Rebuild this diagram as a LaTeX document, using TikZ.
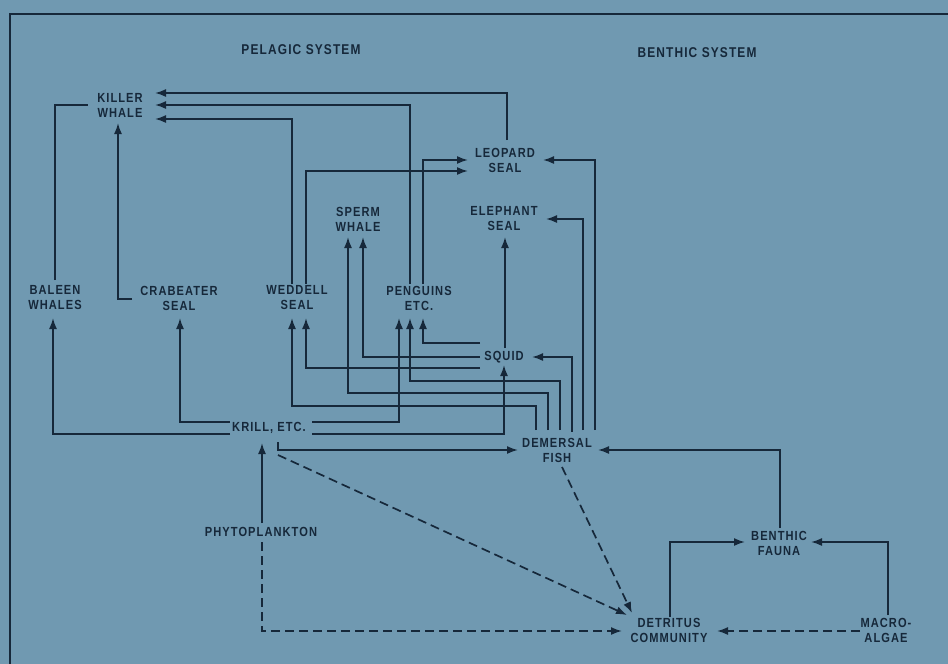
\documentclass[tikz,border=0pt]{standalone}
\usepackage{fontspec}
\setmainfont{Liberation Sans}[LetterSpace=8,FakeStretch=0.84]
\usetikzlibrary{arrows.meta,calc}
\definecolor{webbg}{RGB}{112,153,177}
\definecolor{webink}{RGB}{22,40,58}

\begin{document}
\begin{tikzpicture}[x=1pt,y=-1pt,
    taxon/.style={align=center,inner sep=0pt,text=webink,font=\bfseries\fontsize{13.2}{15}\selectfont},
    head/.style={inner sep=0pt,text=webink,font=\bfseries\fontsize{14.2}{16}\selectfont},
    feed/.style={draw=webink,line width=1.7pt,-{Latex[length=11pt,width=8pt]}},
    link/.style={draw=webink,line width=1.7pt},
    decay/.style={feed,dash pattern=on 9pt off 5pt}]
  \fill[webbg] (0,0) rectangle (948,664);
  \useasboundingbox (0,0) rectangle (948,664);
  % frame
  \draw[link] (10,664) -- (10,14) -- (948,14);

  % headings
  \node[head] (pelagic) at (301,50) {PELAGIC SYSTEM};
  \node[head] (benthic) at (697,53) {BENTHIC SYSTEM};

  % top predators
  \node[taxon] (killer) at (120,105) {KILLER\\WHALE};
  \node[taxon] (leopard) at (505,160) {LEOPARD\\SEAL};
  \node[taxon] (elephant) at (504,219) {ELEPHANT\\SEAL};
  \node[taxon] (sperm) at (358,219) {SPERM\\WHALE};
  % middle row
  \node[taxon] (baleen) at (55,298) {BALEEN\\WHALES};
  \node[taxon] (crab) at (179,298) {CRABEATER\\SEAL};
  \node[taxon] (weddell) at (297,298) {WEDDELL\\SEAL};
  \node[taxon] (penguins) at (419,298) {PENGUINS\\ETC.};
  \node[taxon] (squid) at (504,357) {SQUID};
  % lower part
  \node[taxon] (krill) at (269,428) {KRILL, ETC.};
  \node[taxon] (fish) at (557,450) {DEMERSAL\\FISH};
  \node[taxon] (phyto) at (261,532) {PHYTOPLANKTON};
  \node[taxon] (fauna) at (779,543) {BENTHIC\\FAUNA};
  \node[taxon] (detritus) at (669,630) {DETRITUS\\COMMUNITY};
  \node[taxon] (macro) at (886,630) {MACRO-\\ALGAE};

  % into killer whale
  \draw[feed] ($(leopard)+(2,-20)$) |- ($(killer)+(35,-12)$);
  \draw[feed] ($(penguins)+(-9,-14)$) |- ($(killer)+(35,0)$);
  \draw[feed] ($(weddell)+(-5,-14)$) |- ($(killer)+(35,14)$);
  \draw[link] ($(baleen)+(0,-18)$) |- ($(killer)+(-32,0)$);
  \draw[feed] ($(crab)+(-47,1)$) -| ($(killer)+(-2,18)$);

  % into leopard and elephant seal
  \draw[feed] ($(penguins)+(4,-14)$) |- ($(leopard)+(-37,0)$);
  \draw[feed] ($(weddell)+(9,-14)$) |- ($(leopard)+(-37,11)$);
  \draw[feed] ($(fish)+(38,-20)$) |- ($(leopard)+(38,0)$);
  \draw[feed] ($(fish)+(26,-20)$) |- ($(elephant)+(42,0)$);
  \draw[feed] ($(squid)+(1,-9)$) -- ($(elephant)+(1,18)$);

  % squid
  \draw[feed,{Latex[length=11pt,width=8pt]}-] ($(squid)+(28,0)$) -| ($(fish)+(15,-18)$);
  \draw[feed] ($(squid)+(-24,-14)$) -| ($(penguins)+(4,20)$);
  \draw[feed] ($(squid)+(-24,0)$) -| ($(sperm)+(5,18)$);
  \draw[feed] ($(squid)+(-24,11)$) -| ($(weddell)+(9,20)$);

  % demersal fish
  \draw[feed] ($(fish)+(3,-20)$) |- ($(penguins)+(-9,83)$) -- ($(penguins)+(-9,20)$);
  \draw[feed] ($(fish)+(-9,-20)$) |- ($(sperm)+(-10,174)$) -- ($(sperm)+(-10,18)$);
  \draw[feed] ($(fish)+(-21,-20)$) |- ($(weddell)+(-5,108)$) -- ($(weddell)+(-5,20)$);

  % krill
  \draw[feed] ($(krill)+(43,-6)$) -| ($(penguins)+(-20,20)$);
  \draw[feed] ($(krill)+(43,6)$) -| ($(squid)+(0,8)$);
  \draw[feed] ($(krill)+(9,14)$) |- ($(fish)+(-39,0)$);
  \draw[feed] ($(krill)+(-39,6)$) -| ($(baleen)+(-2,20)$);
  \draw[feed] ($(krill)+(-39,-6)$) -| ($(crab)+(1,20)$);
  \draw[feed] ($(phyto)+(1,-9)$) -- ($(krill)+(-7,15)$);

  % benthic
  \draw[feed] ($(fauna)+(1,-15)$) |- ($(fish)+(41,0)$);
  \draw[feed] ($(detritus)+(1,-13)$) |- ($(fauna)+(-34,-1)$);
  \draw[feed] ($(macro)+(2,-15)$) |- ($(fauna)+(32,-1)$);

  % to detritus
  \draw[decay] ($(phyto)+(1,10)$) |- ($(detritus)+(-47,1)$);
  \draw[decay] ($(krill)+(9,27)$) -- ($(detritus)+(-42,-15)$);
  \draw[decay] ($(fish)+(5,17)$) -- ($(detritus)+(-37,-17)$);
  \draw[decay] ($(macro)+(-26,1)$) -- ($(detritus)+(48,1)$);
\end{tikzpicture}
\end{document}
